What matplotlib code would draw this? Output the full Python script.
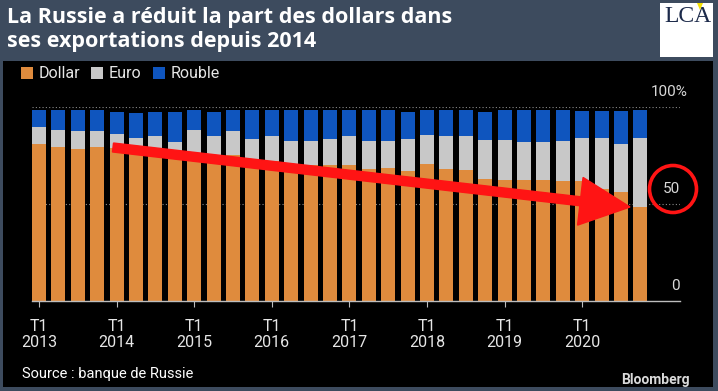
import numpy as np
import matplotlib
matplotlib.use("Agg")
import matplotlib.pyplot as plt
from matplotlib.patches import Rectangle, FancyArrow, Circle, Polygon

# ---- data (shares in % of Russian exports) ----
years = ["2013", "2014", "2015", "2016", "2017", "2018", "2019", "2020"]
dollar = [81.0, 79.3, 78.3, 79.6, 79.0, 78.0, 77.0, 75.0,
          74.0, 74.0, 75.5, 72.0, 72.0, 70.5, 70.0, 70.0,
          69.9, 67.8, 68.3, 67.0, 70.6, 67.8, 67.3, 62.7,
          62.5, 62.2, 62.2, 61.7, 62.0, 57.6, 56.3, 48.5]
euro = [8.6, 9.1, 9.4, 8.1, 7.3, 6.1, 7.8, 6.9,
        13.9, 11.3, 11.9, 11.6, 13.3, 11.9, 12.4, 13.6,
        15.4, 14.6, 14.1, 16.6, 15.1, 17.0, 17.5, 20.4,
        20.6, 19.7, 19.7, 20.7, 22.0, 26.5, 24.7, 35.4]
rouble = [9.1, 10.3, 11.0, 11.0, 11.3, 12.7, 12.8, 15.7,
          10.8, 12.0, 10.8, 14.6, 12.9, 15.8, 15.8, 14.6,
          12.9, 15.8, 15.8, 13.7, 13.0, 13.4, 13.4, 14.2,
          15.1, 16.3, 16.3, 15.8, 13.8, 13.9, 17.0, 14.3]
series_names = ["Dollar", "Euro", "Rouble"]
colors = ["#df8b3d", "#c8c8c8", "#0f55be"]
y_ticks = [0, 50, 100]
y_labels = ["0", "50", "100%"]

W, H = 718, 391
fig = plt.figure(figsize=(W / 100, H / 100), dpi=100)
fig.patch.set_facecolor("#3d4b5e")

def px(x, y):
    return (x / W, 1 - y / H)

# black panel
fig.add_artist(Rectangle(px(3, 387), 710 / W, 326 / H, transform=fig.transFigure,
                         facecolor="black", edgecolor="none", zorder=0))

# title
for txt, yy in [("La Russie a réduit la part des dollars dans", 17),
                ("ses exportations depuis 2014", 41)]:
    fig.text(7 / W, 1 - yy / H, txt, color="white", fontsize=15.5,
             fontweight="bold", family="Open Sans", va="center", ha="left")

# LCA logo
fig.add_artist(Rectangle(px(660, 57), 53 / W, 54 / H, transform=fig.transFigure,
                         facecolor="white", edgecolor="none", zorder=1))
fig.text(688 / W, 1 - 17 / H, "LCA", color="#1c2a4a", fontsize=17,
         family="Liberation Serif", ha="center", va="center", zorder=2)
fig.add_artist(Polygon([px(697, 3), px(703, 3), px(700, 10)], closed=True,
                       transform=fig.transFigure, facecolor="#f5e000",
                       edgecolor="none", zorder=3))

# axes
ax = fig.add_axes([32 / W, 1 - 301 / H, 648 / W, 194 / H])
ax.set_facecolor("none")
x = np.arange(len(dollar))
bottom = np.zeros(len(dollar))
handles = []
for vals, c, name in zip([dollar, euro, rouble], colors, series_names):
    b = ax.bar(x, vals, width=0.72, bottom=bottom, color=c, label=name, zorder=2)
    bottom = bottom + np.array(vals)
    handles.append(b)

ax.set_xlim(-0.36, 33.04)
ax.set_ylim(0, 100)
for s in ["top", "right", "left"]:
    ax.spines[s].set_visible(False)
ax.spines["bottom"].set_color("#bdbdbd")
ax.spines["bottom"].set_linewidth(1)
ax.spines["bottom"].set_zorder(3)
for v in [50, 100]:
    ax.axhline(v, color="#8a8a8a", lw=0.8, ls=(0, (1, 2)), zorder=1)
ax.set_yticks([])
ax.set_xticks(x[::4])
ax.set_xticklabels(["T1\n" + y for y in years], color="#e6e6e6", fontsize=11.5,
                   family="Roboto", linespacing=1.1)
ax.tick_params(axis="x", length=4, color="#bdbdbd", pad=9)

for v, lab in zip(y_ticks, y_labels):
    ax.text(1.0 if lab != "100%" else 1.012, v + 7.6, lab,
            transform=ax.get_yaxis_transform(),
            ha="right", va="center", color="#d9d9d9", fontsize=11,
            family="Roboto", clip_on=False)

# legend
leg = fig.legend(handles=handles, labels=series_names, loc="center left",
                 bbox_to_anchor=(21 / W, 1 - 74 / H), ncol=3, frameon=False,
                 handlelength=0.75, handleheight=0.75,
                 handletextpad=0.35, columnspacing=0.7, borderaxespad=0,
                 borderpad=0, prop={"family": "Roboto", "size": 11.5})
for t in leg.get_texts():
    t.set_color("#e6e6e6")

# red annotations
fig.add_artist(FancyArrow(1.13, (H - 147.5) / 100, 5.17, -0.595, width=0.09,
                          head_width=0.48, head_length=0.5,
                          length_includes_head=True, color="#ff1414",
                          transform=fig.dpi_scale_trans, zorder=5))
fig.add_artist(Circle((6.73, (H - 189) / 100), 0.235, fill=False,
                      edgecolor="#ff1414", lw=2.6, transform=fig.dpi_scale_trans,
                      zorder=5))

# footer
fig.text(22 / W, 1 - 374 / H, "Source : banque de Russie", color="white",
         fontsize=10.5, family="Roboto", va="center", ha="left")
fig.text(690 / W, 1 - 380 / H, "Bloomberg", color="#d9d9d9", fontsize=10,
         fontweight="bold", family="Roboto", va="center", ha="right")

fig.savefig("out.png", dpi=100, facecolor=fig.get_facecolor())
